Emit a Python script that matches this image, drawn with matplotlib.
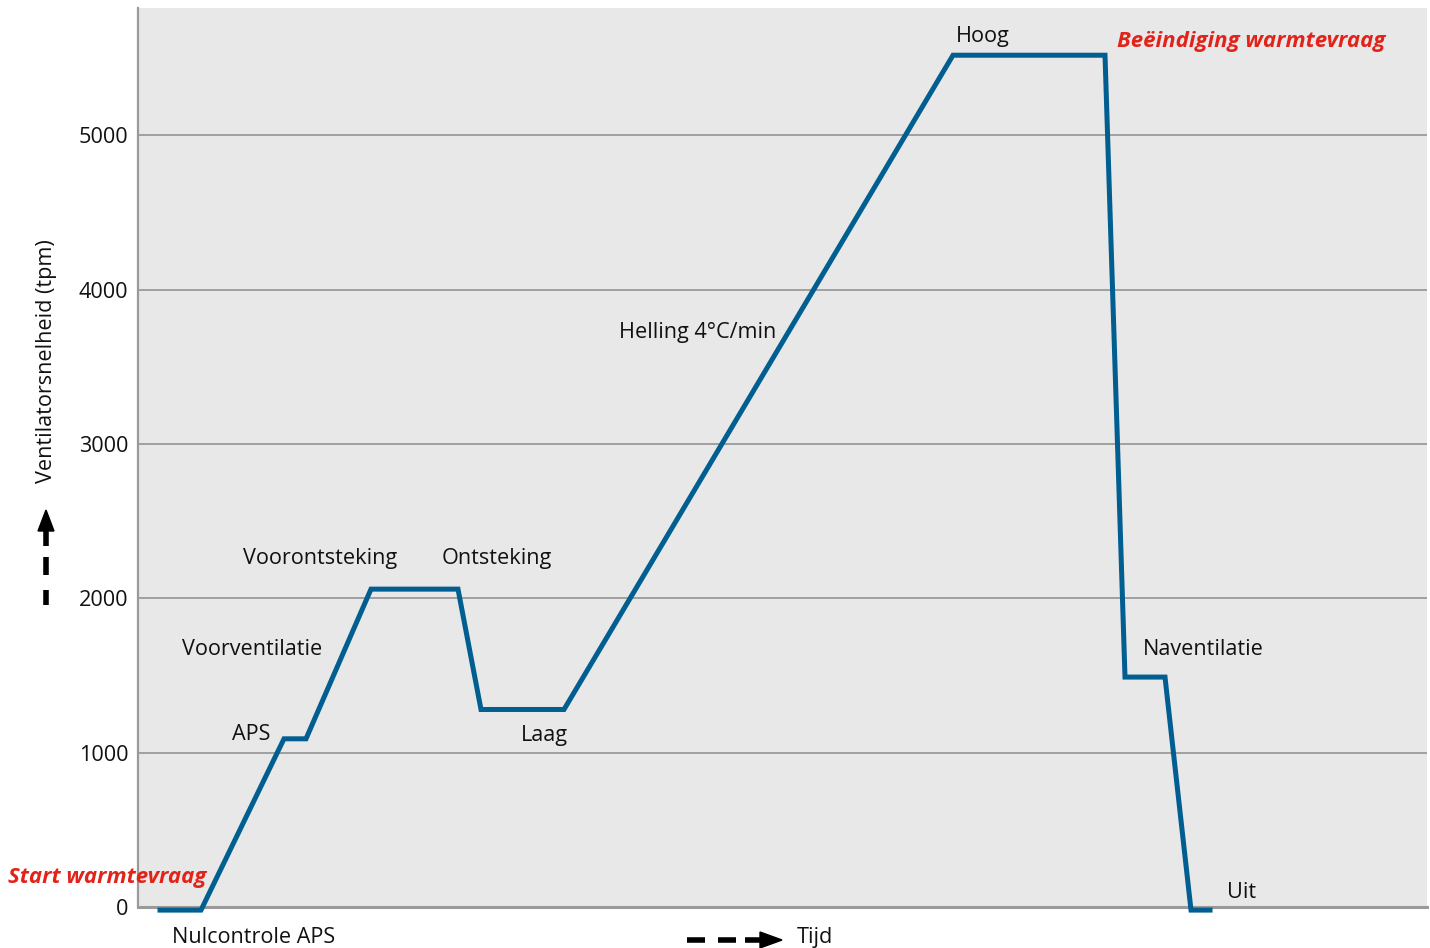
import matplotlib.pyplot as plt
from matplotlib.lines import Line2D
from matplotlib.patches import Polygon

# fan speed profile (time in arbitrary units, speed in rpm)
tijd = [22, 63, 146, 168, 233, 320, 343, 426, 815, 967, 987, 1027, 1053, 1072]
snelheid = [-20, -20, 1090, 1090, 2060, 2060, 1280, 1280, 5520, 5520, 1490, 1490, -20, -20]
yticks = [0, 1000, 2000, 3000, 4000, 5000]

plt.rcParams['font.family'] = ['Open Sans', 'DejaVu Sans']
FS = 15.6

fig = plt.figure(figsize=(14.3, 9.48), dpi=100)
ax = fig.add_axes([138/1430, 41/948, 1289/1430, 899/948])
ax.set_facecolor('#e8e8e8')
ax.set_xlim(0, 1289)
ax.set_ylim(0, 5826)

for yt in yticks[1:]:
    ax.axhline(yt, color='#9a9a9a', lw=1.3, zorder=1)

ax.plot(tijd, snelheid, color='#005e90', lw=3.6, solid_joinstyle='miter',
        zorder=3, clip_on=False)

ax.set_xticks([])
ax.set_yticks(yticks)
ax.set_yticklabels([str(v) for v in yticks], fontsize=FS, color='#111111')
ax.tick_params(axis='y', length=0, pad=7)
for s in ['top', 'right']:
    ax.spines[s].set_visible(False)
ax.spines['left'].set_color('#9a9a9a')
ax.spines['left'].set_linewidth(1.6)
ax.spines['bottom'].set_color('#9a9a9a')
ax.spines['bottom'].set_linewidth(2.2)


def px(x, y):
    # reference pixel -> data coords (small downward nudge for the text baseline)
    return x - 138, (907 - y - 2) / 0.1543


def label(x, y, s, **kw):
    dx, dy = px(x, y)
    ax.text(dx, dy, s, ha='left', va='center', fontsize=FS, color='#111111',
            clip_on=False, zorder=4, **kw)


label(182, 648, 'Voorventilatie')
label(243, 557, 'Voorontsteking')
label(442, 557, 'Ontsteking')
label(232, 733, 'APS')
label(521, 734, 'Laag')
label(619, 331, 'Helling 4°C/min')
label(956, 35, 'Hoog')
label(1143, 648, 'Naventilatie')
label(1227, 891, 'Uit')
label(172, 935, 'Nulcontrole APS')
label(797, 935, 'Tijd')

red = dict(color='#e2231a', fontweight='bold', fontstyle='italic', fontsize=16)
dx, dy = px(8, 876)
ax.text(dx, dy, 'Start warmtevraag', ha='left', va='center', clip_on=False, zorder=4, **red)
dx, dy = px(1117, 40)
ax.text(dx, dy, 'Beëindiging warmtevraag', ha='left', va='center', clip_on=False, zorder=4, **red)

fig.text(47/1430, 1 - 361/948, 'Ventilatorsnelheid (tpm)', rotation=90,
         ha='center', va='center', fontsize=FS, color='#111111')


def fpx(x, y):
    return x / 1430, 1 - y / 948


# dashed up arrow next to the y label
for y0, y1 in [(590, 605), (557, 575), (528, 546)]:
    (a, b), (c, d) = fpx(46, y0), fpx(46, y1)
    fig.add_artist(Line2D([a, c], [b, d], color='black', lw=4, solid_capstyle='butt'))
fig.add_artist(Polygon([fpx(38, 531), fpx(54, 531), fpx(46, 510)], closed=True,
                       color='black', transform=fig.transFigure))

# dashed right arrow before "Tijd"
for x0, x1 in [(687, 705), (718, 736), (745, 763)]:
    (a, b), (c, d) = fpx(x0, 940), fpx(x1, 940)
    fig.add_artist(Line2D([a, c], [b, d], color='black', lw=4, solid_capstyle='butt'))
fig.add_artist(Polygon([fpx(760, 932), fpx(760, 948), fpx(782, 940)], closed=True,
                       color='black', transform=fig.transFigure))

fig.savefig('out.png', dpi=100, facecolor='white')
